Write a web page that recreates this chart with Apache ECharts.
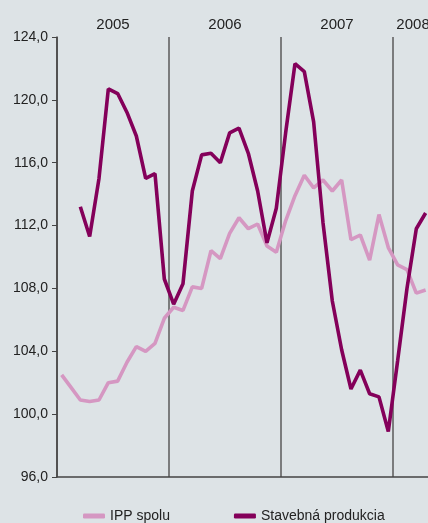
<!DOCTYPE html>
<html>
<head>
    <meta charset="utf-8">
    <title>IPP spolu a stavebná produkcia</title>
    <script src="https://cdn.jsdelivr.net/npm/echarts@6/dist/echarts.min.js"></script>
    <style>
        html, body {
            margin: 0;
            padding: 0;
            background: #dde3e6;
        }
        #chart {
            width: 428px;
            height: 523px;
        }
    </style>
</head>
<body>
    <div id="chart"></div>
    <script type="text/javascript">
        // roky a mesiace (jan 2005 - apr 2008)
        var years = ['2005', '2006', '2007', '2008'];
        var yearLabelPos = [6, 18, 30, 38.15];
        var months = [];
        for (var y = 0; y < years.length; y++) {
            for (var m = 1; m <= 12; m++) {
                if (y == 3 && m > 4) break;
                months.push(years[y] + '-' + (m < 10 ? '0' + m : m));
            }
        }

        var ippSpolu = [
            102.5, 101.7, 100.9, 100.8, 100.9, 102.0, 102.1, 103.3, 104.3, 104.0, 104.5, 106.1,
            106.8, 106.6, 108.1, 108.0, 110.4, 109.9, 111.5, 112.5, 111.8, 112.1, 110.7, 110.3,
            112.3, 113.9, 115.2, 114.4, 114.9, 114.2, 114.9, 111.1, 111.4, 109.8, 112.7, 110.6,
            109.5, 109.2, 107.7, 107.9
        ];
        var stavebnaProdukcia = [
            null, null, 113.2, 111.3, 115.0, 120.7, 120.4, 119.2, 117.7, 115.0, 115.3, 108.6,
            107.0, 108.3, 114.2, 116.5, 116.6, 116.0, 117.9, 118.2, 116.6, 114.2, 110.9, 113.1,
            117.9, 122.3, 121.8, 118.6, 112.2, 107.2, 104.1, 101.6, 102.8, 101.3, 101.1, 98.9,
            103.4, 108.0, 111.8, 112.8
        ];
        var yMin = 96, yMax = 124, yStep = 4;

        var chart = echarts.init(document.getElementById('chart'));

        var option = {
            backgroundColor: '#dde3e6',
            textStyle: {
                fontFamily: 'Liberation Sans, Arial, sans-serif'
            },
            grid: {
                left: 57,
                top: 37,
                bottom: 46,
                right: -2.3,
                outerBoundsMode: 'none'
            },
            legend: {
                left: 78,
                top: 504,
                itemWidth: 22,
                itemHeight: 5,
                itemGap: 64,
                icon: 'roundRect',
                textStyle: {
                    color: '#222',
                    fontSize: 14
                },
                data: ['IPP spolu', 'Stavebná produkcia']
            },
            xAxis: [
                {
                    type: 'category',
                    data: months,
                    boundaryGap: true,
                    axisLine: { lineStyle: { color: '#444', width: 1.5 } },
                    axisTick: { show: false },
                    axisLabel: { show: false },
                    splitLine: { show: false }
                },
                {
                    type: 'value',
                    position: 'top',
                    min: 0,
                    max: 40,
                    interval: 12,
                    axisLine: { show: false },
                    axisTick: { show: false },
                    axisLabel: {
                        customValues: yearLabelPos,
                        margin: 5,
                        color: '#222',
                        fontSize: 15,
                        formatter: function (v) {
                            var i = yearLabelPos.indexOf(v);
                            return i >= 0 ? years[i] : '';
                        }
                    },
                    splitLine: {
                        show: true,
                        lineStyle: { color: '#5a5a5a', width: 1.5 }
                    }
                }
            ],
            yAxis: {
                type: 'value',
                min: yMin,
                max: yMax,
                interval: yStep,
                axisLine: { show: true, lineStyle: { color: '#444', width: 1.5 } },
                axisTick: { show: true, length: 5, lineStyle: { color: '#444' } },
                axisLabel: {
                    margin: 9,
                    color: '#222',
                    fontSize: 14,
                    formatter: function (v) {
                        return v.toFixed(1).replace('.', ',');
                    }
                },
                splitLine: { show: false }
            },
            series: [
                {
                    name: 'IPP spolu',
                    type: 'line',
                    data: ippSpolu,
                    symbol: 'none',
                    color: '#d597c2',
                    lineStyle: { width: 3.6, color: '#d597c2' }
                },
                {
                    name: 'Stavebná produkcia',
                    type: 'line',
                    data: stavebnaProdukcia,
                    symbol: 'none',
                    connectNulls: false,
                    color: '#84005a',
                    lineStyle: { width: 3.6, color: '#84005a' }
                }
            ]
        };

        chart.setOption(option);
    </script>
</body>
</html>
